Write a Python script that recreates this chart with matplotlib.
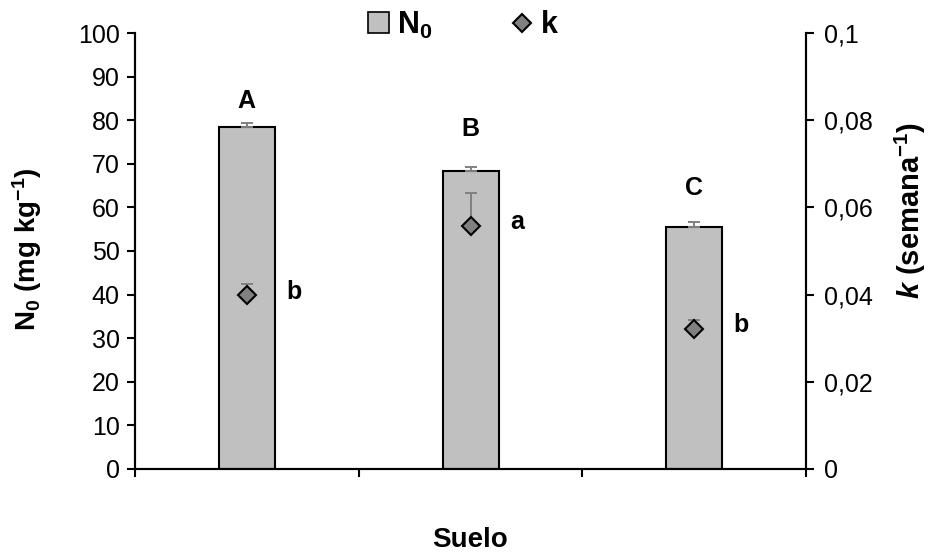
import numpy as np
import matplotlib
matplotlib.use('Agg')
import matplotlib.pyplot as plt
from matplotlib.lines import Line2D
from matplotlib.patches import Patch
from matplotlib.ticker import FuncFormatter

plt.rcParams['font.family'] = 'Liberation Sans'
plt.rcParams['mathtext.fontset'] = 'custom'
plt.rcParams['mathtext.rm'] = 'Liberation Sans'
plt.rcParams['mathtext.bf'] = 'Liberation Sans:bold'
plt.rcParams['mathtext.it'] = 'Liberation Sans:bold:italic'

suelos = ['1', '2', '3']
n0 = [78.5, 68.4, 55.6]
n0_err = [0.9, 0.9, 1.0]
n0_letters = ['A', 'B', 'C']
k = [0.0398, 0.0558, 0.0322]
k_err = [0.0027, 0.0074, 0.0020]
k_letters = ['b', 'a', 'b']

fig = plt.figure(figsize=(9.31, 5.55), dpi=100)
ax = fig.add_axes([0.145, 0.155, 0.721, 0.7855])
ax2 = ax.twinx()

x = np.arange(len(suelos))
ax.bar(x, n0, width=0.25, color='#c0c0c0', edgecolor='black', linewidth=1.5, zorder=2)
ax.errorbar(x, n0, yerr=[np.zeros(3), n0_err], fmt='none', ecolor='#808080',
            elinewidth=1.4, capsize=4.5, capthick=1.4, zorder=3)
# letter heights above each error cap
gaps = [5.0, 8.6, 7.8]
for xi, v, e, g, lab in zip(x, n0, n0_err, gaps, n0_letters):
    ax.text(xi, v + e + g, lab, ha='center', va='center', fontsize=18, fontweight='bold')

ax2.errorbar(x, k, yerr=[np.zeros(3), k_err], fmt='none', ecolor='#808080',
             elinewidth=1.4, capsize=4.5, capthick=1.4, zorder=3)
ax2.plot(x, k, linestyle='none', marker='D', markersize=9, markerfacecolor='#808080',
         markeredgecolor='black', markeredgewidth=1.5, zorder=4)
for xi, v, lab in zip(x, k, k_letters):
    ax2.text(xi + 0.21, v + 0.0008, lab, ha='center', va='center', fontsize=18, fontweight='bold')

ax.set_xlim(-0.5, 2.5)
ax.set_ylim(0, 100)
ax2.set_ylim(0, 0.1)
ax.set_xticks([-0.5, 0.5, 1.5, 2.5])
ax.set_xticklabels([])
ax.set_yticks(np.arange(0, 101, 10))
ax2.set_yticks(np.arange(0, 0.101, 0.02))
ax2.yaxis.set_major_formatter(FuncFormatter(
    lambda v, p: '0' if v == 0 else ('%g' % round(v, 3)).replace('.', ',')))

for a in (ax, ax2):
    a.spines['top'].set_visible(False)
    for s in a.spines.values():
        s.set_linewidth(1.5)
    a.tick_params(direction='out', length=6, width=1.5, labelsize=18)
ax.tick_params(axis='y', pad=5)
ax2.tick_params(axis='y', pad=7)

ax.set_ylabel(r'$\mathbf{N_0}$ (mg kg$^{\mathbf{-1}}$)', fontsize=20, fontweight='bold', va='center')
ax.yaxis.set_label_coords(-0.16, 0.505)
ax2.set_ylabel(r'$k$ (semana$^{\mathbf{-1}}$)', fontsize=21, fontweight='bold', va='center')
ax2.yaxis.set_label_coords(1.155, 0.594)
fig.text(0.505, 0.027, 'Suelo', ha='center', va='center', fontsize=20, fontweight='bold')

handles = [Patch(facecolor='#c0c0c0', edgecolor='black', linewidth=1.2),
           Line2D([], [], linestyle='none', marker='D', markersize=9,
                  markerfacecolor='#808080', markeredgecolor='black', markeredgewidth=1.5)]
leg = fig.legend(handles, [r'$\mathbf{N_0}$', 'k'], loc='center', ncol=2,
                 bbox_to_anchor=(0.497, 0.955), frameon=False, fontsize=22,
                 handlelength=0.7, handleheight=0.7, handletextpad=0.25, columnspacing=2.6)
for t in leg.get_texts():
    t.set_fontweight('bold')

fig.savefig('out.png', dpi=100)
